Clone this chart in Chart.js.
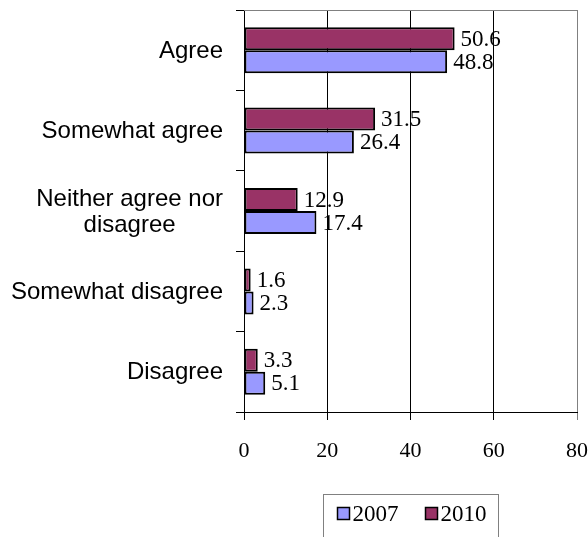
<!DOCTYPE html>
<html>
<head>
<meta charset="utf-8">
<style>
  html, body { margin: 0; padding: 0; background: #fff; }
  #out { display: block; }
</style>
<script src="https://cdn.jsdelivr.net/npm/chart.js@4.4.1/dist/chart.umd.min.js"></script>
</head>
<body>
<canvas id="out" width="588" height="537"></canvas>
<script>
// data
const categories = [["Agree"], ["Somewhat agree"], ["Neither agree nor", "disagree"], ["Somewhat disagree"], ["Disagree"]];
const values2010 = [50.6, 31.5, 12.9, 1.6, 3.3];
const values2007 = [48.8, 26.4, 17.4, 2.3, 5.1];
const xTicks = [0, 20, 40, 60, 80];
const legendOrder = ["2007", "2010"];

const colors = { "2007": "#9999ff", "2010": "#993366" };
const serif = '"Liberation Serif", "Times New Roman", serif';
const sans = '"Liberation Sans", Arial, sans-serif';

// gray frame on top and right of the plot
const plotFrame = {
  id: "plotFrame",
  beforeDatasetsDraw(chart) {
    const { ctx, chartArea: a } = chart;
    ctx.save();
    ctx.strokeStyle = "#808080";
    ctx.lineWidth = 1;
    ctx.beginPath();
    ctx.moveTo(a.left, a.top + 0.5);
    ctx.lineTo(a.right + 0.5, a.top + 0.5);
    ctx.lineTo(a.right + 0.5, a.bottom);
    ctx.stroke();
    ctx.restore();
  }
};

// category names, lines centred on each other, block right aligned
const catLabels = {
  id: "catLabels",
  afterDraw(chart) {
    const { ctx, chartArea: a } = chart;
    const y = chart.scales.y;
    ctx.save();
    ctx.font = "24px " + sans;
    ctx.fillStyle = "#000";
    ctx.textAlign = "center";
    ctx.textBaseline = "middle";
    const lh = 26;
    categories.forEach((lines, i) => {
      const cy = y.getPixelForValue(i) + 1;
      const w = Math.max(...lines.map(l => ctx.measureText(l).width));
      const cx = a.left - 21 - w / 2;
      const y0 = cy - (lines.length - 1) * lh / 2;
      lines.forEach((l, k) => ctx.fillText(l, cx, y0 + k * lh));
    });
    ctx.restore();
  }
};

// value labels at the end of each bar
const valueLabels = {
  id: "valueLabels",
  afterDatasetsDraw(chart) {
    const { ctx } = chart;
    ctx.save();
    ctx.font = "23px " + serif;
    ctx.fillStyle = "#000";
    ctx.textAlign = "left";
    ctx.textBaseline = "middle";
    chart.data.datasets.forEach((ds, di) => {
      chart.getDatasetMeta(di).data.forEach((bar, i) => {
        ctx.fillText(ds.data[i].toFixed(1), bar.x + 6, bar.y + 1);
      });
    });
    ctx.restore();
  }
};

// boxed legend under the plot
const boxLegend = {
  id: "boxLegend",
  afterDraw(chart) {
    const { ctx, chartArea: a } = chart;
    ctx.save();
    ctx.font = "23px " + serif;
    const sq = 12, gap = 3, between = 27;
    const widths = legendOrder.map(n => ctx.measureText(n).width);
    const content = widths.reduce((s, w) => s + sq + gap + w, 0) + between * (legendOrder.length - 1);
    const boxW = content + 26;
    const cx = (a.left + a.right) / 2;
    const left = Math.round(cx - boxW / 2) + 0.5;
    const top = a.bottom + 82.5;
    ctx.strokeStyle = "#808080";
    ctx.lineWidth = 1;
    ctx.strokeRect(left, top, boxW, 60);
    let x = left + 14;
    const my = top + 19;
    ctx.textBaseline = "middle";
    ctx.textAlign = "left";
    legendOrder.forEach((n, i) => {
      ctx.fillStyle = colors[n];
      ctx.fillRect(x, my - 6, sq, sq);
      ctx.strokeStyle = "#000";
      ctx.lineWidth = 1.5;
      ctx.strokeRect(x, my - 6, sq, sq);
      ctx.fillStyle = "#000";
      ctx.fillText(n, x + sq + gap, my + 1);
      x += sq + gap + widths[i] + between;
    });
    ctx.restore();
  }
};

const chartConfig = {
  type: "bar",
  data: {
    labels: categories.map(c => c.join(" ")),
    datasets: [
      {
        label: "2010",
        data: values2010,
        backgroundColor: colors["2010"],
        borderColor: "#000",
        borderWidth: 2,
        borderSkipped: false
      },
      {
        label: "2007",
        data: values2007,
        backgroundColor: colors["2007"],
        borderColor: "#000",
        borderWidth: 2,
        borderSkipped: false
      }
    ]
  },
  options: {
    indexAxis: "y",
    responsive: false,
    animation: false,
    categoryPercentage: 0.572,
    barPercentage: 1.0,
    layout: { padding: { top: 10, right: 11, left: 0, bottom: 0 } },
    plugins: {
      legend: { display: false },
      tooltip: { enabled: false }
    },
    scales: {
      x: {
        type: "linear",
        min: xTicks[0],
        max: xTicks[xTicks.length - 1],
        afterBuildTicks: s => { s.ticks = xTicks.map(v => ({ value: v })); },
        afterFit: s => { s.height = 125; s.paddingLeft = 0; s.paddingRight = 0; },
        ticks: {
          font: { family: serif, size: 22 },
          color: "#000",
          padding: 18
        },
        grid: {
          color: c => (c.tick && c.tick.value === 80 ? "#808080" : "#000"),
          lineWidth: 1,
          tickLength: 8
        },
        border: { color: "#000", width: 1 }
      },
      y: {
        type: "category",
        afterFit: s => { s.width = 244; s.paddingTop = 0; s.paddingBottom = 0; },
        ticks: { display: false },
        grid: {
          offset: true,
          drawOnChartArea: false,
          tickLength: 8,
          color: "#000"
        },
        border: { color: "#000", width: 1 }
      }
    }
  },
  plugins: [plotFrame, valueLabels, catLabels, boxLegend]
};

window.chart = new Chart(document.getElementById("out").getContext("2d"), chartConfig);
</script>
</body>
</html>
